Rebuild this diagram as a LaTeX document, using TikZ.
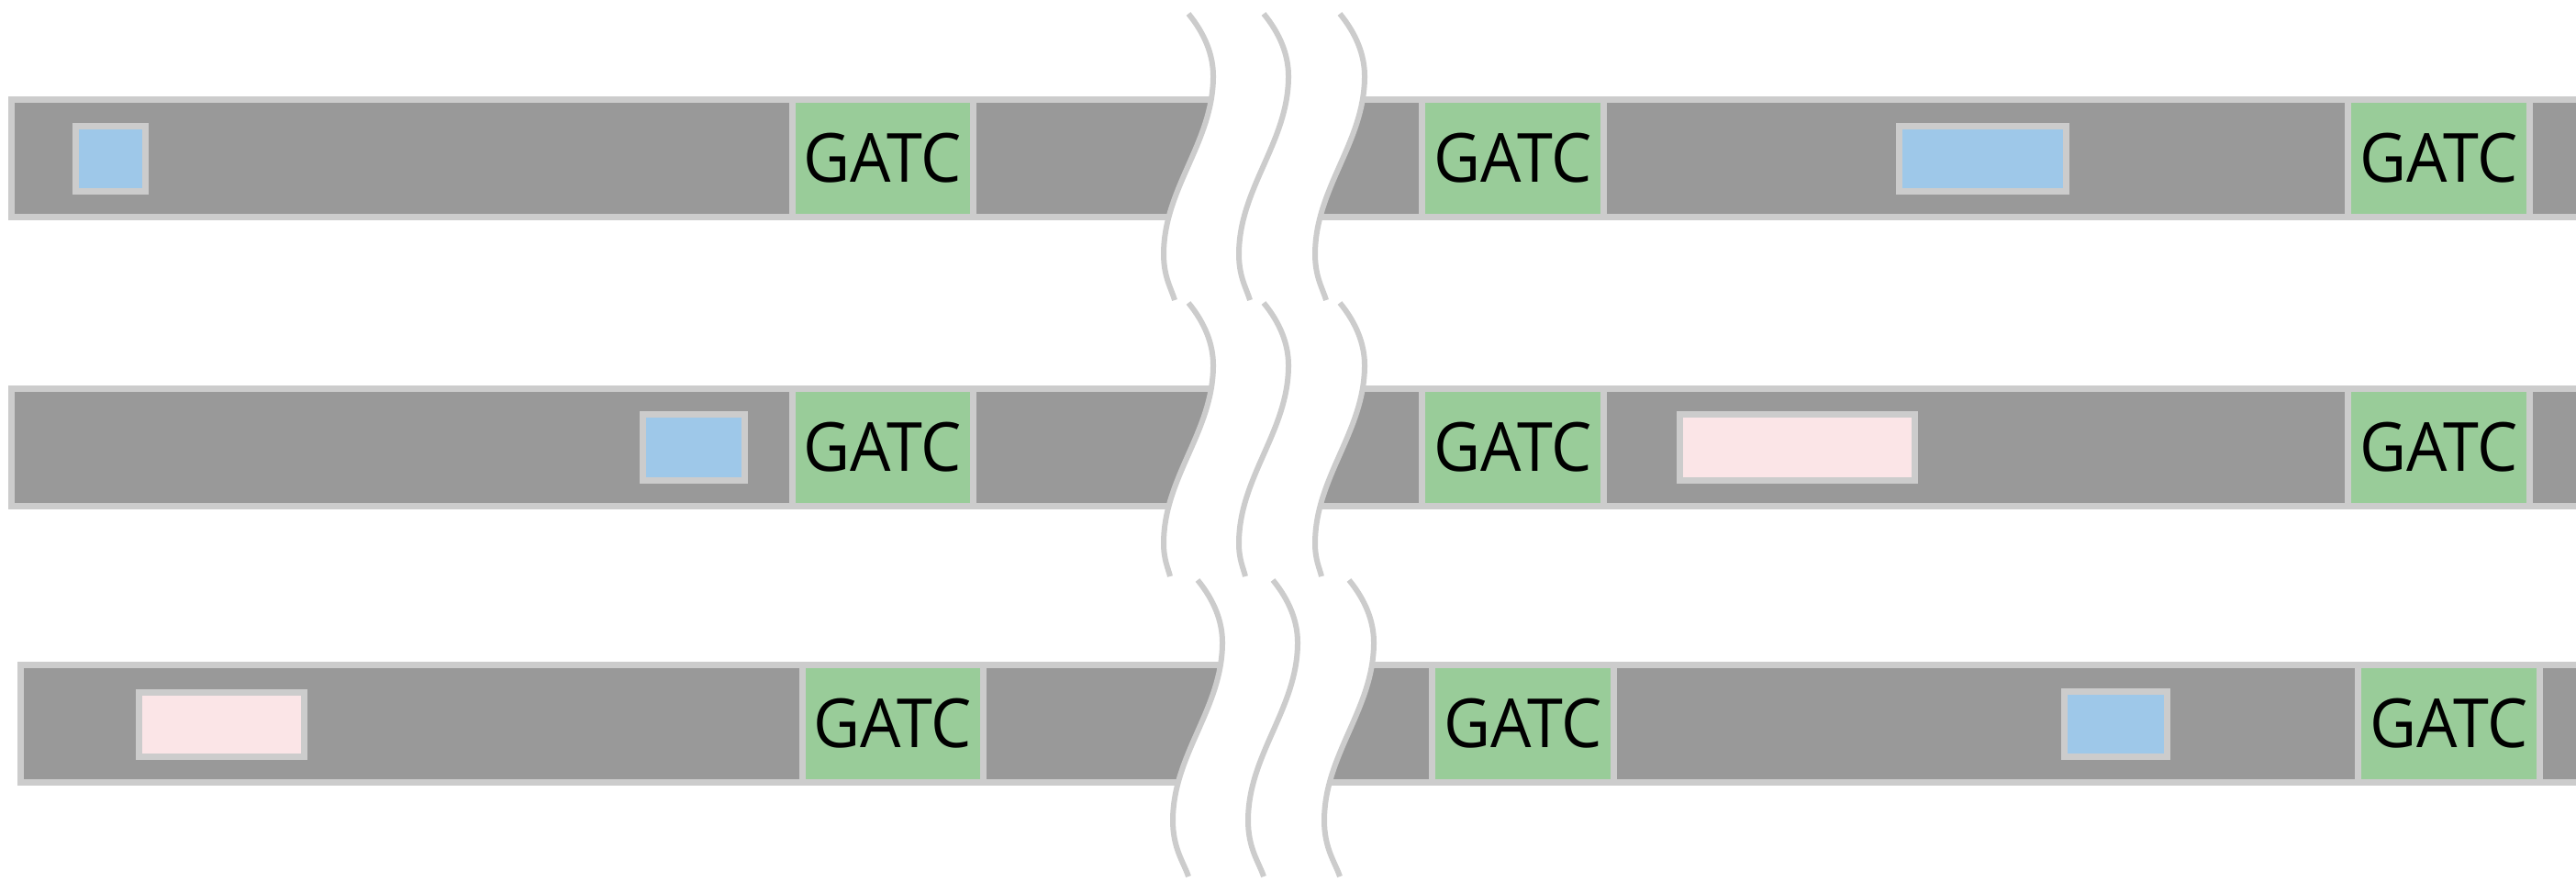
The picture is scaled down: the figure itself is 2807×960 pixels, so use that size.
\documentclass[tikz,border=0pt]{standalone}
\usepackage{fontspec}
\setmainfont{Open Sans}[FakeStretch=0.95]
\definecolor{strandgray}{HTML}{999999}
\definecolor{rim}{HTML}{CCCCCC}
\definecolor{sitegreen}{HTML}{99CC99}
\definecolor{tagblue}{HTML}{9EC8E9}
\definecolor{tagpink}{HTML}{FBE5E7}
\tikzset{
	strand/.style={
		fill=strandgray,
		draw=rim,
		line width=0.07cm},
	site/.style={
		fill=sitegreen,
		draw=rim,
		line width=0.07cm,
		inner sep=0pt,
		minimum width=1.97cm,
		minimum height=1.28cm,
		font=\fontsize{21}{21}\selectfont},
	bluetag/.style={
		fill=tagblue,
		draw=rim,
		line width=0.065cm,
		inner sep=0pt},
	pinktag/.style={
		fill=tagpink,
		draw=rim,
		line width=0.065cm,
		inner sep=0pt},
	breakline/.style={
		draw=rim,
		line width=0.06cm}
}
% one squiggle of the break, #1/#2 = where its tail stops
\newcommand{\squiggle}[2]{(0,0) .. controls (18,22) and (27,45) .. (27,68)
	.. controls (27,140) and (-27,190) .. (-27,262)
	.. controls (-27,{262+0.5*(#2-262)}) and ({#1-0.3*(#1+27)},{#2-0.25*(#2-262)}) .. (#1,#2)}
% white gap between the first and the last squiggle
\newcommand{\gapfill}{(0,0) .. controls (18,22) and (27,45) .. (27,68)
	.. controls (27,140) and (-27,190) .. (-27,262) -- (138,262)
	.. controls (138,190) and (192,140) .. (192,68)
	.. controls (192,45) and (183,22) .. (165,0) -- cycle}

\begin{document}
\begin{tikzpicture}[x=0.01cm, y=-0.01cm]
	\clip (0,0) rectangle (2807,960);

	% first strand
	\draw[strand] (12.5,108.5) rectangle (2830,236.5);
	\fill[white, shift={(1295,15)}] \gapfill;
	\foreach \dx in {0,82,165}
		\draw[breakline, shift={(1295+\dx,15)}] \squiggle{-15}{312};
	\node[bluetag, minimum width=0.76cm, minimum height=0.71cm] (b1) at (120.5,173) {};
	\node[site] (g11) at (962,172.5) {GATC};
	\node[site] (g12) at (1648.5,172.5) {GATC};
	\node[bluetag, minimum width=1.82cm, minimum height=0.71cm] (b2) at (2160.5,173) {};
	\node[site] (g13) at (2657.5,172.5) {GATC};

	% second strand
	\draw[strand] (12.5,423.5) rectangle (2830,551.5);
	\fill[white, shift={(1295,330)}] \gapfill;
	\foreach \dx in {0,82,165}
		\draw[breakline, shift={(1295+\dx,330)}] \squiggle{-20}{298};
	\node[bluetag, minimum width=1.11cm, minimum height=0.72cm] (b3) at (756,487.5) {};
	\node[site] (g21) at (962,487.5) {GATC};
	\node[site] (g22) at (1648.5,487.5) {GATC};
	\node[pinktag, minimum width=2.56cm, minimum height=0.72cm] (p1) at (1958.5,487.5) {};
	\node[site] (g23) at (2657.5,487.5) {GATC};

	% third strand
	\draw[strand] (22.5,724.5) rectangle (2830,852.5);
	\fill[white, shift={(1305,632)}] \gapfill;
	\foreach \dx in {0,82,165}
		\draw[breakline, shift={(1305+\dx,632)}] \squiggle{-10}{323};
	\node[pinktag, minimum width=1.80cm, minimum height=0.70cm] (p2) at (241.5,789.5) {};
	\node[site] (g31) at (973,788.5) {GATC};
	\node[site] (g32) at (1659.5,788.5) {GATC};
	\node[bluetag, minimum width=1.12cm, minimum height=0.71cm] (b4) at (2305.5,789) {};
	\node[site] (g33) at (2668.5,788.5) {GATC};
\end{tikzpicture}
\end{document}
